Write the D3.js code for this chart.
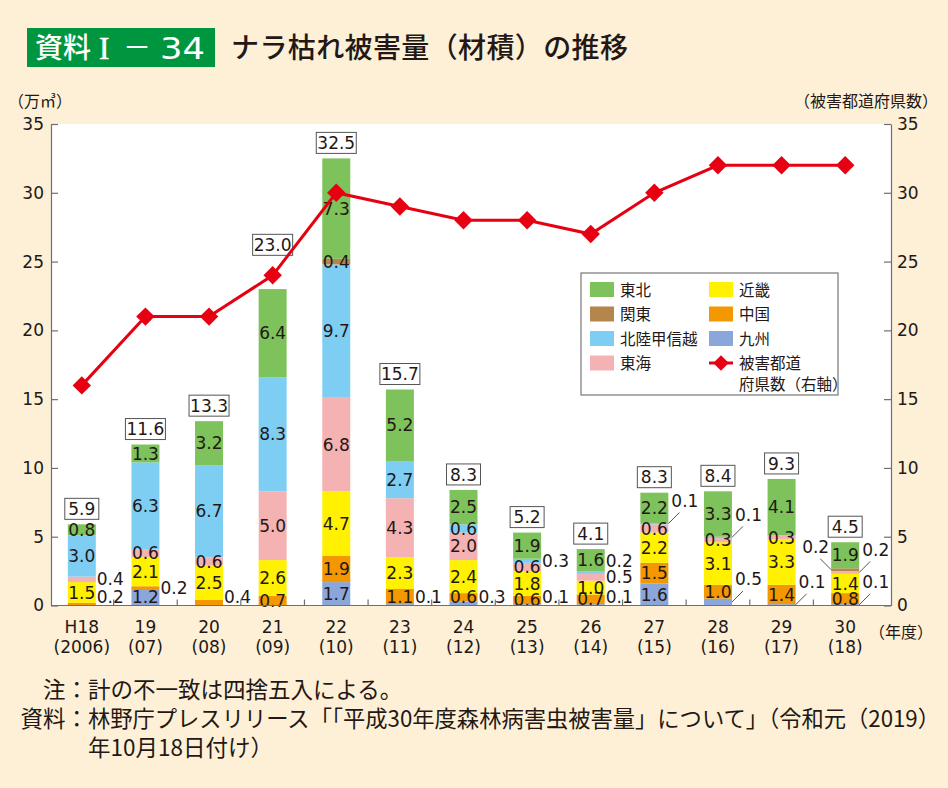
<!DOCTYPE html>
<html><head><meta charset="utf-8">
<script src="https://cdn.jsdelivr.net/npm/d3@7"></script>
<style>
body{margin:0;background:#fdf0d6;}
svg{display:block;}
.jp{font-family:"Noto Sans CJK JP","Noto Sans",sans-serif;}
.num{font-family:"DejaVu Sans",sans-serif;}
</style></head>
<body>
<svg id="chart" width="948" height="788"></svg>
<script>
// ---- data ----
const years = ["H18","19","20","21","22","23","24","25","26","27","28","29","30"];
const yearsWestern = ["(2006)","(07)","(08)","(09)","(10)","(11)","(12)","(13)","(14)","(15)","(16)","(17)","(18)"];
// stack order bottom -> top
const regions = ["九州","中国","近畿","東海","北陸甲信越","関東","東北"];
const kyushu   = [0,   1.2, 0,   0,   1.7, 0.1, 0.3, 0.1, 0.1, 1.6, 0.5, 0.1, 0.1];
const chugoku  = [0.2, 0.2, 0.4, 0.7, 1.9, 1.1, 0.6, 0.6, 0.7, 1.5, 1.0, 1.4, 0.8];
const kinki    = [1.5, 2.1, 2.5, 2.6, 4.7, 2.3, 2.4, 1.8, 1.0, 2.2, 3.1, 3.3, 1.4];
const tokai    = [0.4, 0.6, 0.6, 5.0, 6.8, 4.3, 2.0, 0.6, 0.5, 0.6, 0.3, 0.3, 0.2];
const hokuriku = [3.0, 6.3, 6.7, 8.3, 9.7, 2.7, 0.6, 0.3, 0.2, 0.1, 0.1, 0,   0  ];
const kanto    = [0,   0,   0,   0,   0.4, 0,   0,   0,   0,   0,   0,   0,   0.2];
const tohoku   = [0.8, 1.3, 3.2, 6.4, 7.3, 5.2, 2.5, 1.9, 1.6, 2.2, 3.3, 4.1, 1.9];
const totals   = [5.9, 11.6, 13.3, 23.0, 32.5, 15.7, 8.3, 5.2, 4.1, 8.3, 8.4, 9.3, 4.5];
const prefectures = [16, 21, 21, 24, 30, 29, 28, 28, 27, 30, 32, 32, 32];
const yTicks = [0, 5, 10, 15, 20, 25, 30, 35];
// labels drawn outside the bar: [year index, region, mode]
const outsideLabels = [
  [0,"中国","side"],[0,"東海","side"],[1,"中国","side"],[2,"中国","side"],
  [5,"九州","side"],[6,"九州","side"],[7,"九州","side"],[7,"北陸甲信越","side"],
  [8,"九州","side"],[8,"東海","side"],[8,"北陸甲信越","side"],
  [9,"北陸甲信越","leader"],[10,"北陸甲信越","leader"],[10,"九州","leader"],
  [11,"九州","leader"],[12,"九州","leader"],[12,"東海","leader"],[12,"関東","leaderLeft"]
];
const legendOrder = ["東北","近畿","関東","中国","北陸甲信越","九州","東海"];

// ---- styles ----
const colors = {"九州":"#8ba6da","中国":"#f39800","近畿":"#fff100","東海":"#f5b2b3",
  "北陸甲信越":"#7ecef4","関東":"#b4864b","東北":"#7dc25b"};
const seriesVals = {"九州":kyushu,"中国":chugoku,"近畿":kinki,"東海":tokai,
  "北陸甲信越":hokuriku,"関東":kanto,"東北":tohoku};
const RED = "#e60012", AXIS = "#6f6f6f", TXT = "#231815";

const svg = d3.select("#chart");
svg.append("rect").attr("width",948).attr("height",788).attr("fill","#fdf0d6");

// title
svg.append("rect").attr("x",27).attr("y",28).attr("width",188).attr("height",39).attr("fill","#009640");
const tb = svg.append("g").attr("fill","#fff").attr("font-size",28);
tb.append("text").attr("class","jp").attr("x",35).attr("y",58).attr("font-weight",500).text("資料");
tb.append("text").attr("x",99).attr("y",59).attr("font-family","Liberation Serif").attr("font-size",31)
  .attr("stroke","#fff").attr("stroke-width",0.6).text("I");
tb.append("text").attr("class","jp").attr("x",123).attr("y",58).text("－");
tb.append("text").attr("x",160).attr("y",59).attr("font-family","DejaVu Sans").attr("font-size",30)
  .attr("textLength",45).attr("lengthAdjust","spacingAndGlyphs").text("34");
svg.append("text").attr("class","jp").attr("x",231).attr("y",58).attr("fill",TXT)
  .attr("font-size",28).attr("font-weight",500).attr("textLength",397).attr("lengthAdjust","spacing")
  .text("ナラ枯れ被害量（材積）の推移");

// scales
const x = d3.scaleBand().domain(years).range([50,877]).paddingInner(0.56).paddingOuter(0.28);
const yL = d3.scaleLinear().domain([0,35]).range([605.5,124]);
const yR = d3.scaleLinear().domain([0,35]).range([605.5,124]);
const bw = x.bandwidth();

// plot background
svg.append("rect").attr("x",51).attr("y",124).attr("width",840).attr("height",481.5).attr("fill","#fff");

// stack
const table = years.map((yr,i)=>{const o={year:yr,i}; regions.forEach(r=>o[r]=seriesVals[r][i]); return o;});
const stack = d3.stack().keys(regions)(table);

const gBars = svg.append("g");
stack.forEach(layer=>{
  gBars.selectAll(null).data(layer.filter(d=>d[1]-d[0]>0)).join("rect")
    .attr("x",d=>x(d.data.year)).attr("width",bw)
    .attr("y",d=>yL(d[1])).attr("height",d=>yL(d[0])-yL(d[1]))
    .attr("fill",colors[layer.key]);
});

// inside labels
const isOutside = (i,r)=>outsideLabels.some(o=>o[0]===i&&o[1]===r);
const gLab = svg.append("g").attr("class","num").attr("font-size",17).attr("fill",TXT);
stack.forEach(layer=>{
  layer.forEach((d,i)=>{
    const v = d[1]-d[0];
    if (v<=0 || isOutside(i,layer.key)) return;
    gLab.append("text").attr("x",x(d.data.year)+bw/2).attr("y",yL((d[0]+d[1])/2))
      .attr("text-anchor","middle").attr("dy","0.36em").text(d3.format(".1f")(seriesVals[layer.key][i]));
  });
});

// outside labels
const segCenter = (i,r)=>{const layer=stack.find(l=>l.key===r); const d=layer[i]; return yL((d[0]+d[1])/2);};
years.forEach((yr,i)=>{
  const side = outsideLabels.filter(o=>o[0]===i&&o[2]==="side")
    .map(o=>({r:o[1],y:segCenter(i,o[1])})).sort((a,b)=>b.y-a.y);
  let prev = null;
  side.forEach(s=>{
    let y = Math.min(s.y, 597);
    if (prev!==null) y = Math.min(y, prev-16);
    prev = y;
    gLab.append("text").attr("x",x(yr)+bw+1).attr("y",y).attr("dy","0.36em")
      .text(d3.format(".1f")(seriesVals[s.r][i]));
  });
  outsideLabels.filter(o=>o[0]===i&&o[2]!=="side").forEach(o=>{
    const sy = segCenter(i,o[1]);
    const left = o[2]==="leaderLeft";
    const bx = left ? x(yr) : x(yr)+bw;
    const s = left ? -1 : 1;
    svg.append("line").attr("x1",bx).attr("y1",sy).attr("x2",bx+s*11).attr("y2",sy-11)
      .attr("stroke","#555").attr("stroke-width",1);
    gLab.append("text").attr("x",left? bx-2 : bx+3).attr("y",sy-23).attr("dy","0.36em")
      .attr("text-anchor",left?"end":"start").text(d3.format(".1f")(seriesVals[o[1]][i]));
  });
});

// total boxes (lifted above the line marker when they would collide)
const gTot = svg.append("g").attr("class","num").attr("font-size",17);
totals.forEach((t,i)=>{
  const top = yL(d3.sum(regions,r=>seriesVals[r][i]));
  const my = yR(prefectures[i]);
  let bottom = top - 5;
  if (my < top + 8 && my > top - 40) bottom = my - 20;
  const cx = x(years[i])+bw/2;
  const txt = d3.format(".1f")(t);
  const w = txt.length>3 ? 40 : 34;
  gTot.append("rect").attr("x",cx-w/2).attr("y",bottom-21).attr("width",w).attr("height",21)
    .attr("fill","#fff").attr("stroke","#555").attr("stroke-width",1);
  gTot.append("text").attr("x",cx).attr("y",bottom-10.5).attr("dy","0.36em").attr("text-anchor","middle")
    .attr("fill",TXT).text(txt);
});

// axes
const axL = svg.append("g").attr("transform","translate(51,0)")
  .call(d3.axisLeft(yL).tickValues(yTicks).tickSizeInner(-7).tickSizeOuter(0).tickPadding(7));
const axR = svg.append("g").attr("transform","translate(891,0)")
  .call(d3.axisRight(yR).tickValues(yTicks).tickSizeInner(-7).tickSizeOuter(0).tickPadding(6));
[axL,axR].forEach(a=>{
  a.selectAll("path,line").attr("stroke",AXIS).attr("stroke-width",1.2);
  a.selectAll("text").attr("font-family","DejaVu Sans").attr("font-size",17).attr("fill",TXT);
});
// x axis
const axB = svg.append("g").attr("transform","translate(0,605.5)");
axB.append("line").attr("x1",51).attr("x2",891).attr("stroke",AXIS).attr("stroke-width",1.2);
years.slice(1).forEach(yr=>{
  const tx = x(yr) - x.step()*x.paddingInner()/2;
  axB.append("line").attr("x1",tx).attr("x2",tx).attr("y1",0).attr("y2",-6).attr("stroke",AXIS).attr("stroke-width",1.2);
});
years.forEach((yr,i)=>{
  const cx = x(yr)+bw/2;
  axB.append("text").attr("class","num").attr("x",cx).attr("y",27).attr("text-anchor","middle")
    .attr("font-size",17).attr("fill",TXT).text(yr);
  axB.append("text").attr("class","num").attr("x",cx).attr("y",47).attr("text-anchor","middle")
    .attr("font-size",17).attr("fill",TXT).text(yearsWestern[i]);
});
svg.append("text").attr("class","jp").attr("x",869).attr("y",638).attr("font-size",16).attr("fill",TXT).text("（年度）");
svg.append("text").attr("class","jp").attr("x",8).attr("y",107).attr("font-size",16).attr("fill",TXT).text("（万㎥）");
svg.append("text").attr("class","jp").attr("x",938).attr("y",107).attr("font-size",16).attr("fill",TXT)
  .attr("text-anchor","end").text("（被害都道府県数）");

// line
const line = d3.line().x((d,i)=>x(years[i])+bw/2).y(d=>yR(d));
svg.append("path").datum(prefectures).attr("d",line).attr("fill","none").attr("stroke",RED).attr("stroke-width",3);
svg.append("g").selectAll("path").data(prefectures).join("path")
  .attr("d",d3.symbol(d3.symbolSquare,170))
  .attr("transform",(d,i)=>`translate(${x(years[i])+bw/2},${yR(d)}) rotate(45)`)
  .attr("fill",RED);

// legend
const lg = svg.append("g");
lg.append("rect").attr("x",581).attr("y",273).attr("width",257).attr("height",122).attr("fill","#fff")
  .attr("stroke","#777").attr("stroke-width",1.2);
legendOrder.forEach((r,k)=>{
  const col = k%2, row = Math.floor(k/2);
  const lx = col ? 709 : 590, ly = 282 + row*24.5;
  lg.append("rect").attr("x",lx).attr("y",ly).attr("width",24).attr("height",15).attr("fill",colors[r]);
  lg.append("text").attr("class","jp").attr("x",lx+30).attr("y",ly+8).attr("dy","0.36em")
    .attr("font-size",15.5).attr("fill",TXT).text(r);
});
lg.append("line").attr("x1",709).attr("x2",733).attr("y1",363).attr("y2",363).attr("stroke",RED).attr("stroke-width",3);
lg.append("path").attr("d",d3.symbol(d3.symbolSquare,120)).attr("transform","translate(721,363) rotate(45)").attr("fill",RED);
lg.append("text").attr("class","jp").attr("x",739).attr("y",363).attr("dy","0.36em").attr("font-size",15.5).attr("fill",TXT).text("被害都道");
lg.append("text").attr("class","jp").attr("x",739).attr("y",384).attr("dy","0.36em").attr("font-size",15.5).attr("fill",TXT).text("府県数（右軸）");

// notes
const notes = svg.append("g").attr("class","jp").attr("font-size",22.5).attr("fill",TXT);
notes.append("text").attr("x",88).attr("y",698).attr("text-anchor","end").text("注：");
notes.append("text").attr("x",88).attr("y",698).text("計の不一致は四捨五入による。");
notes.append("text").attr("x",88).attr("y",727).attr("text-anchor","end").text("資料：");
notes.append("text").attr("x",88).attr("y",727).attr("textLength",852).attr("lengthAdjust","spacingAndGlyphs")
  .text("林野庁プレスリリース「「平成30年度森林病害虫被害量」について」（令和元（2019）");
notes.append("text").attr("x",88).attr("y",756).text("年10月18日付け）");
</script>
</body></html>
